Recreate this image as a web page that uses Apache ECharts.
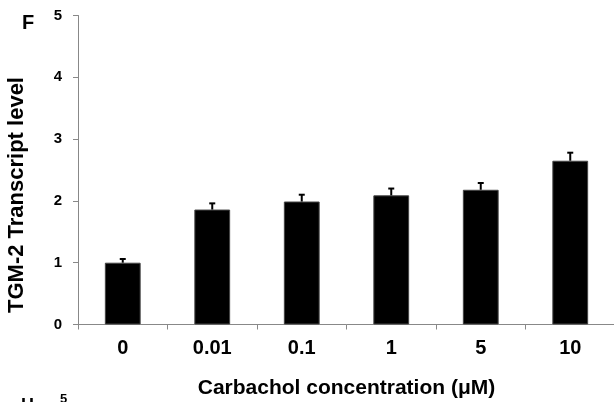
<!DOCTYPE html>
<html>
<head>
<meta charset="utf-8">
<script src="https://cdn.jsdelivr.net/npm/echarts@6/dist/echarts.min.js"></script>
<style>
html,body{margin:0;padding:0;background:#fff;}
#chart{width:614px;height:402px;}
</style>
</head>
<body>
<div id="chart"></div>
<script>
var categories = ['0', '0.01', '0.1', '1', '5', '10'];
var values = [1.0, 1.86, 1.99, 2.09, 2.18, 2.65];
var errors = [0.06, 0.10, 0.11, 0.11, 0.11, 0.13];
var yTicks = [0, 1, 2, 3, 4, 5];

var chart = echarts.init(document.getElementById('chart'), null, {renderer: 'canvas'});
var FONT = 'Liberation Sans, Arial, sans-serif';

var errData = values.map(function (v, i) { return [i, v, v + errors[i]]; });

var option = {
  animation: false,
  backgroundColor: '#fff',
  grid: {left: 78, right: -1, top: 15.5, bottom: 77.5, containLabel: false, outerBoundsMode: 'none'},
  xAxis: {
    type: 'category',
    data: categories,
    name: 'Carbachol concentration (\u03bcM)',
    nameLocation: 'middle',
    nameGap: 53,
    nameTextStyle: {fontFamily: FONT, fontWeight: 'bold', fontSize: 21, color: '#000'},
    axisLine: {lineStyle: {color: '#888', width: 1}},
    axisTick: {show: true, length: 5, inside: false, alignWithLabel: false, lineStyle: {color: '#888'}},
    axisLabel: {fontFamily: FONT, fontWeight: 'bold', fontSize: 20, color: '#000', margin: 14}
  },
  yAxis: {
    type: 'value',
    min: yTicks[0],
    max: yTicks[yTicks.length - 1],
    interval: 1,
    name: 'TGM-2 Transcript level',
    nameLocation: 'middle',
    nameRotate: 90,
    nameGap: 50,
    nameTextStyle: {fontFamily: FONT, fontWeight: 'bold', fontSize: 22, color: '#000', padding: [0, 50, 0, 0]},
    axisLine: {show: true, lineStyle: {color: '#888', width: 1}},
    axisTick: {show: true, length: 5, lineStyle: {color: '#888'}},
    splitLine: {show: false},
    axisLabel: {fontFamily: FONT, fontWeight: 'bold', fontSize: 15, color: '#000', margin: 16, padding: [3, 0, 0, 0]}
  },
  series: [
    {
      type: 'bar',
      data: values,
      barWidth: '40%',
      itemStyle: {color: '#000', borderColor: '#444', borderWidth: 1}
    },
    {
      type: 'custom',
      data: errData,
      z: 5,
      renderItem: function (params, api) {
        var i = api.value(0);
        var lo = api.coord([i, api.value(1)]);
        var hi = api.coord([i, api.value(2)]);
        var hw = 3;
        return {
          type: 'group',
          children: [
            {type: 'line', shape: {x1: lo[0], y1: lo[1], x2: hi[0], y2: hi[1]}, style: {stroke: '#000', lineWidth: 2}},
            {type: 'line', shape: {x1: hi[0] - hw, y1: hi[1], x2: hi[0] + hw, y2: hi[1]}, style: {stroke: '#000', lineWidth: 2}}
          ]
        };
      }
    }
  ],
  graphic: [
    {type: 'text', left: 22, top: 13, style: {text: 'F', font: 'bold 20px ' + FONT, fill: '#000'}},
    {type: 'text', left: 21, top: 397, style: {text: 'H', font: 'bold 18px ' + FONT, fill: '#000'}},
    {type: 'text', left: 60, top: 393, style: {text: '5', font: 'bold 13px ' + FONT, fill: '#000'}}
  ]
};
chart.setOption(option);
</script>
</body>
</html>
